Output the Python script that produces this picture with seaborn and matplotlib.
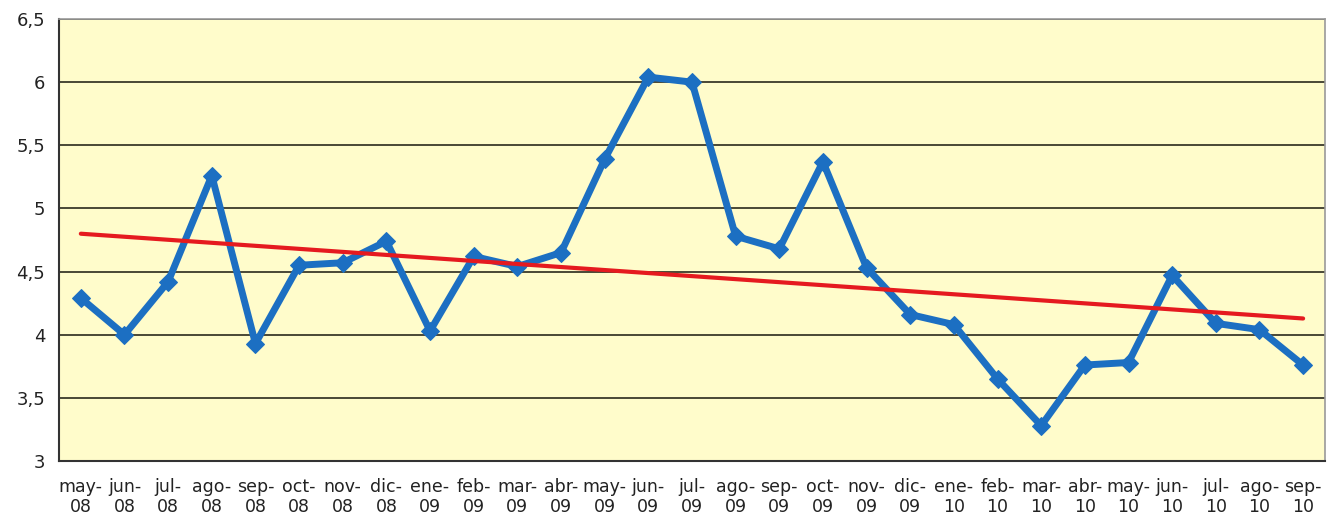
import numpy as np
import pandas as pd
import matplotlib
matplotlib.use("Agg")
import matplotlib.pyplot as plt
import seaborn as sns

# meses (may-08 .. sep-10)
months = ["may", "jun", "jul", "ago", "sep", "oct", "nov", "dic", "ene", "feb",
          "mar", "abr", "may", "jun", "jul", "ago", "sep", "oct", "nov", "dic",
          "ene", "feb", "mar", "abr", "may", "jun", "jul", "ago", "sep"]
years = ["08"] * 8 + ["09"] * 12 + ["10"] * 9
values = [4.29, 4.00, 4.42, 5.26, 3.93, 4.55, 4.57, 4.74, 4.03, 4.62,
          4.54, 4.65, 5.39, 6.04, 6.00, 4.78, 4.68, 5.37, 4.53, 4.16,
          4.08, 3.65, 3.28, 3.76, 3.78, 4.47, 4.09, 4.04, 3.76]
y_ticks = [3, 3.5, 4, 4.5, 5, 5.5, 6, 6.5]

labels = [f"{m}-\n{y}" for m, y in zip(months, years)]
df = pd.DataFrame({"pos": np.arange(len(values)), "valor": values})

# tendencia lineal (como la de Excel)
slope, intercept = np.polyfit(df["pos"], df["valor"], 1)
df["tendencia"] = intercept + slope * df["pos"]

sns.set_style("white")
plt.rcParams["font.family"] = ["DejaVu Sans"]

fig = plt.figure(figsize=(13.32, 5.25), dpi=100)
ax = fig.add_axes([0.0443, 0.1219, 0.9504, 0.8419])
ax.set_facecolor("#FFFCCB")

for y in y_ticks[1:]:
    ax.axhline(y, color="#3a3a2a", lw=1.3, zorder=1)

sns.lineplot(data=df, x="pos", y="valor", ax=ax, color="#1C6FC2", lw=5,
             marker="D", markersize=9, markeredgecolor="#1C6FC2", zorder=3)
sns.lineplot(data=df, x="pos", y="tendencia", ax=ax, color="#E51A1F", lw=3, zorder=4)

ax.set_xlim(-0.5, len(values) - 0.5)
ax.set_ylim(3, 6.5)
ax.set_yticks(y_ticks)
ax.set_yticklabels([f"{v:g}".replace(".", ",") for v in y_ticks], fontsize=13,
                   color="#222222", fontweight="medium")
ax.set_xticks(np.arange(len(values)))
ax.set_xticklabels(labels, fontsize=12.5, linespacing=1.15, color="#222222",
                   fontweight="medium")
ax.set_xticks(np.arange(len(values) + 1) - 0.5, minor=True)
ax.tick_params(axis="x", which="major", length=0, pad=12)
ax.tick_params(axis="x", which="minor", length=6, width=1.2, color="#333333", direction="out")
ax.tick_params(axis="y", length=5, width=1.2, color="#333333", direction="out", pad=5)
ax.set_xlabel("")
ax.set_ylabel("")

for side in ["left", "bottom"]:
    ax.spines[side].set_color("#333333")
    ax.spines[side].set_linewidth(1.5)
for side in ["top", "right"]:
    ax.spines[side].set_color("#999999")
    ax.spines[side].set_linewidth(1.2)

fig.savefig("out.png", dpi=100)
